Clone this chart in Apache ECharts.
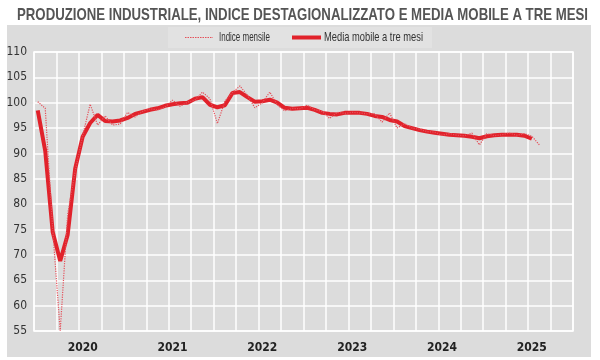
<!DOCTYPE html>
<html>
<head>
<meta charset="utf-8">
<script src="https://cdn.jsdelivr.net/npm/echarts@6/dist/echarts.min.js"></script>
<style>
html,body{margin:0;padding:0;background:#fff;}
#chart{width:600px;height:360px;}
</style>
</head>
<body>
<div id="chart"></div>
<script>
// ---- data ----
const years = ['2020', '2021', '2022', '2023', '2024', '2025'];
const monthsInYear = ['01','02','03','04','05','06','07','08','09','10','11','12'];
const seriesNames = ['Indice mensile', 'Media mobile a tre mesi'];
const titleText = 'PRODUZIONE INDUSTRIALE, INDICE DESTAGIONALIZZATO E MEDIA MOBILE A TRE MESI';
const yTicks = { min: 55, max: 110, step: 5 };

// Monthly index, Jan 2020 .. Aug 2025
const indiceMensile = [
  100.2, 98.9, 75.0, 55.0, 78.0, 86.5, 93.5, 99.7, 95.6, 97.4, 95.6, 95.8,
  98.1, 97.2, 98.3, 98.8, 98.6, 99.1, 100.5, 99.3, 100.1, 100.5, 102.1, 100.8,
  95.9, 100.3, 102.0, 103.3, 101.5, 99.0, 100.0, 102.1, 99.6, 98.4, 98.9, 98.8,
  99.5, 98.6, 98.3, 96.9, 98.1, 97.9, 98.1, 98.0, 97.8, 97.8, 96.2, 98.0,
  95.0, 95.9, 95.0, 94.8, 94.3, 94.2, 93.6, 93.9, 93.6, 93.5, 94.0, 91.7,
  93.9, 93.5, 93.7, 94.0, 93.6, 93.9, 93.4, 91.7
];

// Three-month moving average, Jan 2020 .. Jul 2025
const mediaMobile = [
  98.5, 90.5, 74.5, 68.8, 74.0, 87.0, 93.3, 96.0, 97.6, 96.4, 96.3, 96.5,
  97.0, 97.8, 98.2, 98.6, 98.9, 99.4, 99.7, 99.9, 100.0, 100.8, 101.1, 99.6,
  99.1, 99.5, 101.9, 102.1, 101.1, 100.2, 100.3, 100.6, 100.0, 99.0, 98.8, 98.9,
  99.0, 98.6, 98.0, 97.8, 97.7, 98.0, 98.0, 98.0, 97.8, 97.4, 97.2, 96.6,
  96.3, 95.4, 95.0, 94.6, 94.3, 94.1, 93.9, 93.7, 93.6, 93.5, 93.3, 93.0,
  93.4, 93.6, 93.7, 93.7, 93.7, 93.5, 92.9
];

const categories = [];
years.forEach(y => monthsInYear.forEach(m => categories.push(y + '-' + m)));

// ---- styling helpers ----
const FONT = "'DejaVu Sans Condensed', 'Liberation Sans', sans-serif";
const NARROW_BASE = "'Liberation Sans', sans-serif";
const COL_MONTHLY = '#e5505a';
const COL_MA = '#e1222b';

function measure(text, font) {
  const c = document.createElement('canvas').getContext('2d');
  c.font = font;
  return c.measureText(text).width;
}
// condensed text: scale horizontally to a target width
function squeezedText(text, x, y, size, weight, color, targetWidth, align) {
  const w = measure(text, weight + ' ' + size + 'px ' + NARROW_BASE);
  return {
    type: 'text', x: x, y: y, scaleX: targetWidth / w, silent: true, z: 20,
    style: {
      text: text, x: 0, y: 0, fill: color,
      font: weight + ' ' + size + 'px ' + NARROW_BASE,
      textAlign: align || 'left', textVerticalAlign: 'middle'
    }
  };
}

const chart = echarts.init(document.getElementById('chart'), null, { renderer: 'canvas' });

chart.setOption({
  animation: false,
  backgroundColor: '#ffffff',
  textStyle: { fontFamily: FONT },
  graphic: [
    { type: 'rect', z: -10, silent: true, shape: { x: 7, y: 25, width: 584, height: 332 }, style: { fill: '#dcdcdc' } },
    // title
    squeezedText(titleText, 302.5, 15, 17, 'bold', '#555555', 571, 'center'),
    // legend box
    { type: 'rect', z: 15, silent: true, shape: { x: 168, y: 27, width: 264, height: 21 }, style: { fill: '#e2e2e2' } },
    { type: 'line', z: 20, silent: true, shape: { x1: 185, y1: 37.5, x2: 213, y2: 37.5 },
      style: { stroke: COL_MONTHLY, lineWidth: 1.2, lineDash: [1.5, 1] } },
    squeezedText(seriesNames[0], 219, 37.5, 13, 'normal', '#333333', 51),
    { type: 'line', z: 20, silent: true, shape: { x1: 292, y1: 37.5, x2: 321, y2: 37.5 },
      style: { stroke: COL_MA, lineWidth: 4 } },
    squeezedText(seriesNames[1], 324, 37.5, 13, 'normal', '#333333', 99)
  ],
  legend: { show: false, data: seriesNames },
  grid: {
    left: 34, right: 27, top: 52, bottom: 29,
    show: true, backgroundColor: '#dcdcdc', borderColor: '#ffffff', borderWidth: 1.5
  },
  xAxis: {
    type: 'category',
    data: categories,
    boundaryGap: true,
    axisLine: { show: false },
    axisTick: { show: false, interval: (i) => i % 3 === 0 },
    axisLabel: {
      interval: (i) => i % 12 === 6,
      formatter: (v) => v.slice(0, 4),
      fontFamily: FONT, fontWeight: 'bold', fontSize: 12, color: '#222', margin: 11
    },
    splitLine: { show: true, interval: (i) => i % 3 === 0, lineStyle: { color: '#ffffff', width: 1.5 } }
  },
  yAxis: {
    type: 'value',
    min: yTicks.min, max: yTicks.max, interval: yTicks.step,
    axisLine: { show: false },
    axisTick: { show: false },
    axisLabel: { fontFamily: FONT, fontSize: 12, color: '#333', margin: 7 },
    splitLine: { show: true, lineStyle: { color: '#ffffff', width: 1.5 } }
  },
  series: [
    {
      name: seriesNames[0], type: 'line', data: indiceMensile,
      symbol: 'none', z: 3,
      lineStyle: { color: COL_MONTHLY, width: 1.2, type: 'dotted' },
      itemStyle: { color: COL_MONTHLY }
    },
    {
      name: seriesNames[1], type: 'line', data: mediaMobile,
      symbol: 'none', z: 2,
      lineStyle: { color: COL_MA, width: 4 },
      itemStyle: { color: COL_MA }
    }
  ]
});
</script>
</body>
</html>
